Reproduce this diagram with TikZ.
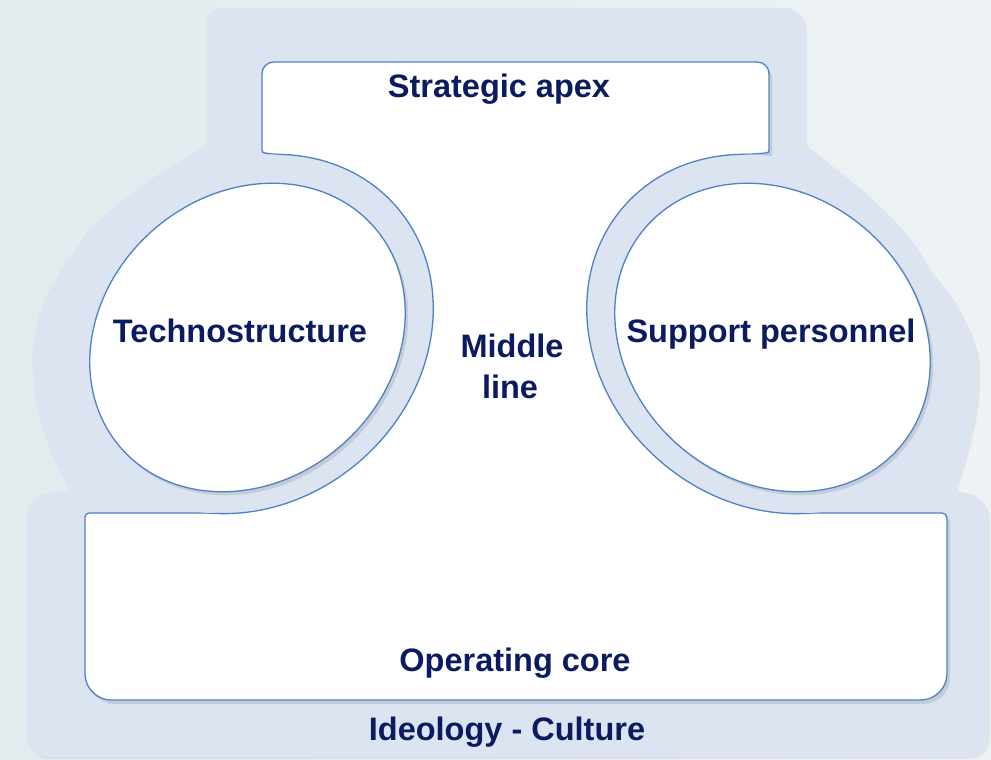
\documentclass[tikz,border=0pt]{standalone}
\usepackage{fontspec}
\setmainfont{Liberation Sans}
\definecolor{bgl}{HTML}{E3EBEE}
\definecolor{bgr}{HTML}{EEF2F4}
\definecolor{ideo}{HTML}{DBE4F0}
\definecolor{edge}{HTML}{4F81C7}
\definecolor{ink}{HTML}{0B1B60}
\newcommand{\Opath}{(207,145) -- (207,22) .. controls (207,14) and (213,8) .. (221,8) -- (785,8) .. controls (796,8) and (805,17) .. (805,28) -- (805,145) -- plot[smooth] coordinates {(805,145) (873,200) (913,250) (953,300) (976,350) (977,400) (967,450) (955,490)} -- (964,493) .. controls (977,493) and (988,504) .. (988,517) -- (988,737) .. controls (988,748) and (979,757) .. (968,757) -- (47,757) .. controls (36,757) and (27,748) .. (27,737) -- (27,518) .. controls (27,504) and (38,493) .. (52,493) -- (70,490) -- plot[smooth] coordinates {(70,490) (50,450) (36,400) (33,350) (45,300) (87,233) (140,187) (207,145)} -- cycle}
\newcommand{\Wpath}{(262,74) .. controls (262,67) and (267,62) .. (274,62) -- (757,62) .. controls (764,62) and (769,67) .. (769,74) -- (769,150) .. controls (769,152) and (768,153) .. (766,153) -- (740,155) -- (770,334) -- (805,513) -- (942,513) .. controls (945,513) and (947,515) .. (947,518) -- (947,674) .. controls (947,688) and (935,700) .. (921,700) -- (111,700) .. controls (97,700) and (85,688) .. (85,674) -- (85,517) .. controls (85,515) and (87,513) .. (89,513) -- (215,513) -- (250,334) -- (280,155) -- (265,153) .. controls (263,153) and (262,152) .. (262,150) -- cycle}
\begin{document}
\begin{tikzpicture}[x=1pt, y=-1pt,
  lbl/.style={font=\fontsize{32.5}{39}\selectfont\bfseries, text=ink, inner sep=0pt, anchor=base},
  edgeline/.style={draw=edge, line width=1.3pt},
  shade/.style={fill=black, opacity=0.10}]
\useasboundingbox (0,0) rectangle (991,760);
% background
\fill[left color=bgl, middle color=white, right color=bgr] (0,0) rectangle (991,760);
% ideology (outer shape)
\fill[black, opacity=0.05, shift={(2,2)}] \Opath;
\fill[ideo] \Opath;
% white structure
\fill[shade, shift={(3,4)}] \Wpath;
\fill[white] \Wpath;
\draw[edgeline] \Wpath;
% rings around the two ellipses
\fill[ideo, shift={(250,334)}, rotate=41] (0,0) ellipse [x radius=194, y radius=168];
\fill[ideo, shift={(770,334)}, rotate=-41] (0,0) ellipse [x radius=194, y radius=168];
\begin{scope}
  \clip \Wpath;
  \draw[edgeline, shift={(250,334)}, rotate=41] (0,0) ellipse [x radius=194, y radius=168];
  \draw[edgeline, shift={(770,334)}, rotate=-41] (0,0) ellipse [x radius=194, y radius=168];
\end{scope}
% technostructure and support staff
\fill[shade, shift={(250.5,341)}, rotate=41] (0,0) ellipse [x radius=168, y radius=143];
\fill[shade, shift={(775.5,341)}, rotate=-41] (0,0) ellipse [x radius=168, y radius=143];
\path[fill=white, edgeline, shift={(247.5,337.5)}, rotate=41] (0,0) ellipse [x radius=168, y radius=143];
\path[fill=white, edgeline, shift={(772.5,337.5)}, rotate=-41] (0,0) ellipse [x radius=168, y radius=143];
% labels
\node[lbl] (apex) at (499,97) {Strategic apex};
\node[lbl] (techno) at (240,342) {Technostructure};
\node[lbl] (support) at (771,342) {Support personnel};
\node[lbl] (middle1) at (512,357) {Middle};
\node[lbl] (middle2) at (510,398) {line};
\node[lbl] (core) at (515,671) {Operating core};
\node[lbl] (ideology) at (507,740) {Ideology - Culture};
\end{tikzpicture}
\end{document}
